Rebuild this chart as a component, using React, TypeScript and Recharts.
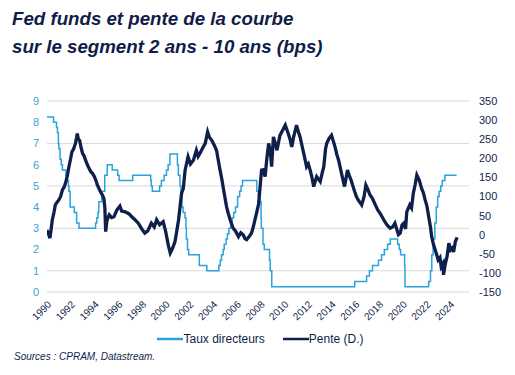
import React from 'react'
import {
  LineChart, Line, XAxis, YAxis, CartesianGrid, Legend,
} from 'recharts'

const NAVY = '#0f1f4b'
const BLUE = '#2ba2dc'

// Taux directeurs (borne haute, %), en escalier
const fedYears = [
  1990.0, 1990.55, 1990.8, 1990.88, 1990.96, 1991.0, 1991.1, 1991.2, 1991.3, 1991.6,
  1991.7, 1991.8, 1991.85, 1991.95, 1992.3, 1992.5, 1992.7, 1994.1, 1994.2, 1994.3,
  1994.37, 1994.62, 1994.87, 1995.08, 1995.5, 1995.96, 1996.08, 1997.23, 1998.75, 1998.8,
  1998.88, 1999.5, 1999.65, 1999.88, 2000.08, 2000.22, 2000.37, 2001.0, 2001.08, 2001.22,
  2001.3, 2001.38, 2001.48, 2001.64, 2001.72, 2001.76, 2001.85, 2001.95, 2002.85, 2003.48,
  2004.5, 2004.62, 2004.72, 2004.86, 2004.95, 2005.1, 2005.22, 2005.35, 2005.5, 2005.62,
  2005.75, 2005.9, 2006.08, 2006.25, 2006.37, 2006.5, 2007.7, 2007.83, 2007.95, 2008.06,
  2008.08, 2008.22, 2008.33, 2008.77, 2008.83, 2008.96, 2015.96, 2016.96, 2017.2, 2017.46,
  2017.96, 2018.22, 2018.46, 2018.73, 2018.96, 2019.58, 2019.72, 2019.83, 2020.17, 2020.2,
  2022.2, 2022.35, 2022.46, 2022.57, 2022.72, 2022.84, 2022.96, 2023.08, 2023.22, 2023.34,
  2023.57, 2024.55,
]
const fedRates = [
  8.25, 8.0, 7.75, 7.5, 7.0, 6.75, 6.25, 6.0, 5.75, 5.5,
  5.25, 5.0, 4.75, 4.0, 3.75, 3.25, 3.0, 3.25, 3.5, 3.75,
  4.25, 4.75, 5.5, 6.0, 5.75, 5.5, 5.25, 5.5, 5.25, 5.0,
  4.75, 5.0, 5.25, 5.5, 5.75, 6.0, 6.5, 6.0, 5.5, 5.0,
  4.5, 4.0, 3.75, 3.5, 3.0, 2.5, 2.0, 1.75, 1.25, 1.0,
  1.25, 1.5, 1.75, 2.0, 2.25, 2.5, 2.75, 3.0, 3.25, 3.5,
  3.75, 4.0, 4.5, 4.75, 5.0, 5.25, 4.75, 4.5, 4.25, 3.5,
  3.0, 2.25, 2.0, 1.5, 1.0, 0.25, 0.5, 0.75, 1.0, 1.25,
  1.5, 1.75, 2.0, 2.25, 2.5, 2.25, 2.0, 1.75, 1.25, 0.25,
  0.5, 1.0, 1.75, 2.5, 3.25, 4.0, 4.5, 4.75, 5.0, 5.25,
  5.5, 5.5,
]

// Pente 2 ans - 10 ans (bps), axe de droite
const penteYears = [
  1990.0, 1990.15, 1990.25, 1990.35, 1990.45, 1990.6, 1990.7, 1990.85, 1991.0, 1991.15,
  1991.3, 1991.45, 1991.6, 1991.75, 1991.85, 1992.0, 1992.1, 1992.25, 1992.4, 1992.5,
  1992.55, 1992.65, 1992.75, 1992.9, 1993.0, 1993.15, 1993.25, 1993.45, 1993.7, 1993.85,
  1994.0, 1994.15, 1994.25, 1994.4, 1994.5, 1994.65, 1994.8, 1994.88, 1994.95, 1995.05,
  1995.15, 1995.25, 1995.45, 1995.65, 1995.9, 1996.15, 1996.3, 1996.6, 1996.9, 1997.15,
  1997.4, 1997.7, 1998.0, 1998.25, 1998.5, 1998.8, 1999.05, 1999.25, 1999.5, 1999.8,
  2000.0, 2000.25, 2000.4, 2000.6, 2000.8, 2000.95, 2001.1, 2001.35, 2001.5, 2001.65,
  2001.9, 2002.1, 2002.35, 2002.6, 2002.75, 2002.9, 2003.1, 2003.35, 2003.55, 2003.7,
  2003.9, 2004.1, 2004.3, 2004.45, 2004.6, 2004.75, 2004.9, 2005.15, 2005.3, 2005.45,
  2005.7, 2005.9, 2006.15, 2006.35, 2006.55, 2006.7, 2006.85, 2007.05, 2007.25, 2007.4,
  2007.55, 2007.7, 2007.85, 2008.1, 2008.25, 2008.4, 2008.55, 2008.7, 2008.85, 2008.95,
  2009.1, 2009.25, 2009.4, 2009.65, 2009.9, 2010.1, 2010.35, 2010.5, 2010.65, 2010.8,
  2011.05, 2011.2, 2011.35, 2011.6, 2011.75, 2011.9, 2012.05, 2012.2, 2012.35, 2012.5,
  2012.75, 2013.05, 2013.2, 2013.35, 2013.5, 2013.6, 2013.8, 2014.0, 2014.15, 2014.3,
  2014.45, 2014.6, 2014.85, 2015.1, 2015.35, 2015.5, 2015.65, 2015.95, 2016.1, 2016.25,
  2016.55, 2016.75, 2016.9, 2017.05, 2017.25, 2017.45, 2017.7, 2017.9, 2018.1, 2018.3,
  2018.5, 2018.7, 2018.95, 2019.15, 2019.35, 2019.5, 2019.65, 2019.8, 2019.95, 2020.1,
  2020.25, 2020.35, 2020.6, 2020.75, 2020.9, 2021.05, 2021.2, 2021.4, 2021.6, 2021.75,
  2021.9, 2022.05, 2022.2, 2022.35, 2022.45, 2022.6, 2022.75, 2022.9, 2023.0, 2023.15,
  2023.25, 2023.4, 2023.45, 2023.55, 2023.65, 2023.75, 2023.9, 2024.05, 2024.2, 2024.3,
  2024.45, 2024.6,
]
const penteValues = [
  12, 0, -9, 15, 39, 60, 78, 85, 91, 100,
  117, 125, 139, 160, 178, 200, 217, 225, 239, 255,
  265, 250, 247, 225, 213, 205, 195, 180, 165, 160,
  152, 140, 130, 120, 113, 105, 95, 70, 8, 35,
  45, 52, 45, 47, 65, 75, 62, 60, 55, 47,
  40, 30, 15, 4, 10, 30, 20, 39, 26, 34,
  10, -30, -48, -35, -18, 10, 39, 108, 121, 169,
  204, 185, 195, 221, 205, 213, 225, 239, 269, 255,
  247, 235, 221, 195, 169, 145, 117, 73, 55, 39,
  17, 10, -5, 5, 0, -10, -13, -5, 4, 20,
  40, 60, 80, 169, 170, 152, 200, 239, 215, 178,
  256, 240, 221, 260, 275, 287, 265, 250, 230, 255,
  287, 270, 256, 221, 200, 178, 185, 169, 150, 126,
  152, 139, 160, 178, 225, 239, 252, 260, 245, 230,
  210, 195, 160, 126, 169, 155, 143, 113, 100, 91,
  78, 100, 130, 120, 104, 95, 78, 65, 56, 45,
  34, 25, 17, 20, 30, 15, 0, 4, 25, 30,
  15, 60, 78, 70, 108, 130, 156, 143, 121, 110,
  91, 75, 47, 20, -5, -25, -40, -55, -66, -60,
  -83, -75, -105, -85, -70, -57, -22, -40, -35, -45,
  -18, -7,
]

const xTicks = [1990, 1992, 1994, 1996, 1998, 2000, 2002, 2004, 2006, 2008, 2010, 2012, 2014, 2016, 2018, 2020, 2022, 2024]
const leftTicks = [0, 1, 2, 3, 4, 5, 6, 7, 8, 9]
const rightTicks = [-150, -100, -50, 0, 50, 100, 150, 200, 250, 300, 350]

const fedData = fedYears.map((year, i) => ({ year, taux: fedRates[i] }))
const penteData = penteYears.map((year, i) => ({ year, pente: penteValues[i] }))

const font = '"Liberation Sans", Arial, sans-serif'

function LegendContent() {
  const items = [
    { label: 'Taux directeurs', color: BLUE },
    { label: 'Pente (D.)', color: NAVY },
  ]
  return (
    <div style={{ display: 'flex', justifyContent: 'center', gap: 18, fontFamily: font, fontSize: 12, color: NAVY, paddingLeft: 6 }}>
      {items.map(it => (
        <div key={it.label} style={{ display: 'flex', alignItems: 'center' }}>
          <svg width={26} height={10}>
            <line x1={0} y1={5} x2={26} y2={5} stroke={it.color} strokeWidth={2.5} />
          </svg>
          <span>{it.label}</span>
        </div>
      ))}
    </div>
  )
}

export default function App() {
  return (
    <div style={{ position: 'absolute', left: 0, top: 0, width: 515, height: 375, background: '#fff', fontFamily: font }}>
      <div style={{
        position: 'absolute', left: 12, top: 5, fontSize: 18.7, lineHeight: '28px',
        fontWeight: 700, fontStyle: 'italic', color: '#111c4a',
      }}>
        Fed funds et pente de la courbe<br />
        sur le segment 2 ans - 10 ans (bps)
      </div>
      <LineChart
        width={515}
        height={375}
        margin={{ top: 101, right: 0, left: 0, bottom: 19 }}
        style={{ position: 'absolute', left: 0, top: 0 }}
      >
        <CartesianGrid yAxisId="left" vertical={false} stroke="#d9d9d9" />
        <XAxis
          dataKey="year"
          type="number"
          domain={[1990, 2025.6]}
          ticks={xTicks}
          allowDataOverflow
          angle={-45}
          textAnchor="end"
          height={40}
          tick={{ fontSize: 10, fill: NAVY, fontFamily: font }}
          tickLine={false}
          axisLine={false}
          interval={0}
        />
        <YAxis
          yAxisId="left"
          domain={[0, 9]}
          ticks={leftTicks}
          width={47}
          tick={{ fontSize: 11, fill: '#3aa3d8', fontFamily: font }}
          tickLine={false}
          axisLine={false}
        />
        <YAxis
          yAxisId="right"
          orientation="right"
          domain={[-150, 350]}
          ticks={rightTicks}
          width={46}
          tickMargin={4}
          tick={{ fontSize: 11, fill: NAVY, fontFamily: font, textAnchor: 'start' }}
          tickLine={false}
          axisLine={false}
        />
        <Legend verticalAlign="bottom" height={24} content={<LegendContent />} />
        <Line
          yAxisId="left"
          data={fedData}
          dataKey="taux"
          type="stepAfter"
          stroke={BLUE}
          strokeWidth={1.5}
          dot={false}
          isAnimationActive={false}
        />
        <Line
          yAxisId="right"
          data={penteData}
          dataKey="pente"
          type="linear"
          stroke={NAVY}
          strokeWidth={3.3}
          dot={false}
          isAnimationActive={false}
        />
      </LineChart>
      <div style={{ position: 'absolute', left: 14, top: 351, fontSize: 10, fontStyle: 'italic', color: NAVY }}>
        Sources : CPRAM, Datastream.
      </div>
    </div>
  )
}
